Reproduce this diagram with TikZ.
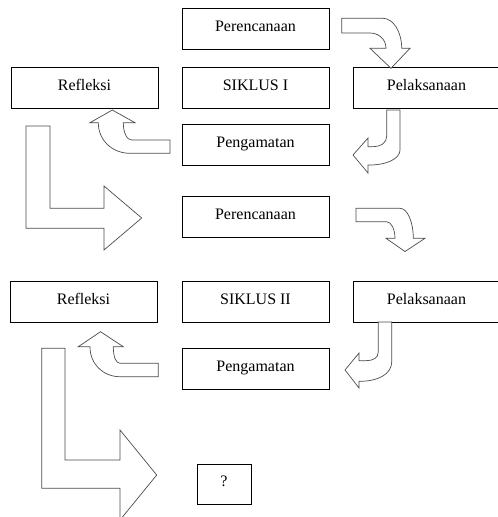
\documentclass[tikz,border=0pt]{standalone}
\usepackage{fontspec}
\setmainfont{Liberation Serif}
\usetikzlibrary{positioning}

\begin{document}
\begin{tikzpicture}[x=1pt, y=-1pt, node distance=18pt and 24pt,
  every node/.style={font=\fontsize{16}{19}\selectfont},
  box/.style={draw, line width=0.7pt, minimum width=147pt, minimum height=41pt, inner sep=0pt, outer sep=0pt, text height=11pt, text depth=7pt},
  blk/.style={draw=black!70, line width=0.7pt, fill=white}]
\useasboundingbox (0,0) rectangle (498,517);
% siklus I
\node[box] (per1) at (255.5,29) {Perencanaan};
\node[box, below=of per1] (sik1) {SIKLUS I};
\node[box, left=of sik1] (ref1) {Refleksi};
\node[box, right=of sik1] (pel1) {Pelaksanaan};
\node[box, below=16pt of sik1] (pen1) {Pengamatan};
% siklus II
\node[box, below=31pt of pen1] (per2) {Perencanaan};
\node[box, below=44pt of per2] (sik2) {SIKLUS II};
\node[box, left=25pt of sik2] (ref2) {Refleksi};
\node[box, right=of sik2] (pel2) {Pelaksanaan};
\node[box, below=26pt of sik2] (pen2) {Pengamatan};
\node[box, minimum width=54pt, minimum height=40pt, below=75pt of pen2, xshift=-31.5pt] (next) {?};
% block arrows, siklus I
\draw[blk] (341.7,18.3) -- (383,18.3) .. controls (393.3,18.3) and (401.7,31.8) .. (401.7,48.3)
  -- (410,48.3) -- (391,68.3) -- (370,48.3) -- (386,48.3)
  .. controls (386,39.5) and (379,33) .. (370,33) -- (341.7,33) -- cycle;
\draw[blk] (386.7,110) -- (400,110) -- (400,150) .. controls (400,159) and (386,165) .. (370,165)
  -- (368,165) -- (368,173) -- (353,155) -- (368,138) -- (368,146.7) -- (372,146.7)
  .. controls (381,146.7) and (386.7,143) .. (386.7,136) -- cycle;
\draw[blk] (170,140) -- (131.7,140) .. controls (127,140) and (123.3,133) .. (123.3,122.7)
  -- (135,122.7) -- (112.3,110) -- (90,122.7) -- (98.3,122.7)
  .. controls (98.3,140) and (112,153.3) .. (130,153.3) -- (170,153.3) -- cycle;
\draw[blk] (26,126) -- (50,126) -- (50,208.3) -- (104,208.3) -- (104,186) -- (141.7,218)
  -- (104,250) -- (104,228.3) -- (26,228.3) -- cycle;
% block arrows, siklus II
\draw[blk] (356,208.3) -- (400,208.3) .. controls (407.5,208.3) and (413.3,222) .. (413.3,238.3)
  -- (425,238.3) -- (405,251.5) -- (386,238.3) -- (395,238.3)
  .. controls (395,229) and (391,221.7) .. (386.7,221.7) -- (356,221.7) -- cycle;
\draw[blk] (378.3,322) -- (391.7,322) -- (391.7,362) .. controls (391.7,374) and (378,381.3) .. (360,381.3)
  -- (359,381.3) -- (359,388) -- (345,370) -- (359,353) -- (359,360.7) -- (366,360.7)
  .. controls (373,360.7) and (378.3,358) .. (378.3,352) -- cycle;
\draw[blk] (158.3,363.3) -- (120,363.3) .. controls (116,363.3) and (113.3,357) .. (113.3,346.7)
  -- (123.3,346.7) -- (100.5,331.7) -- (78.3,346.7) -- (90,346.7)
  .. controls (90,364) and (103,376.7) .. (120,376.7) -- (158.3,376.7) -- cycle;
\draw[blk] (41.7,348.3) -- (65,348.3) -- (65,460) -- (120,460) -- (120,430) -- (156.7,475)
  -- (120,520) -- (120,488.3) -- (41.7,488.3) -- cycle;
\end{tikzpicture}
\end{document}
